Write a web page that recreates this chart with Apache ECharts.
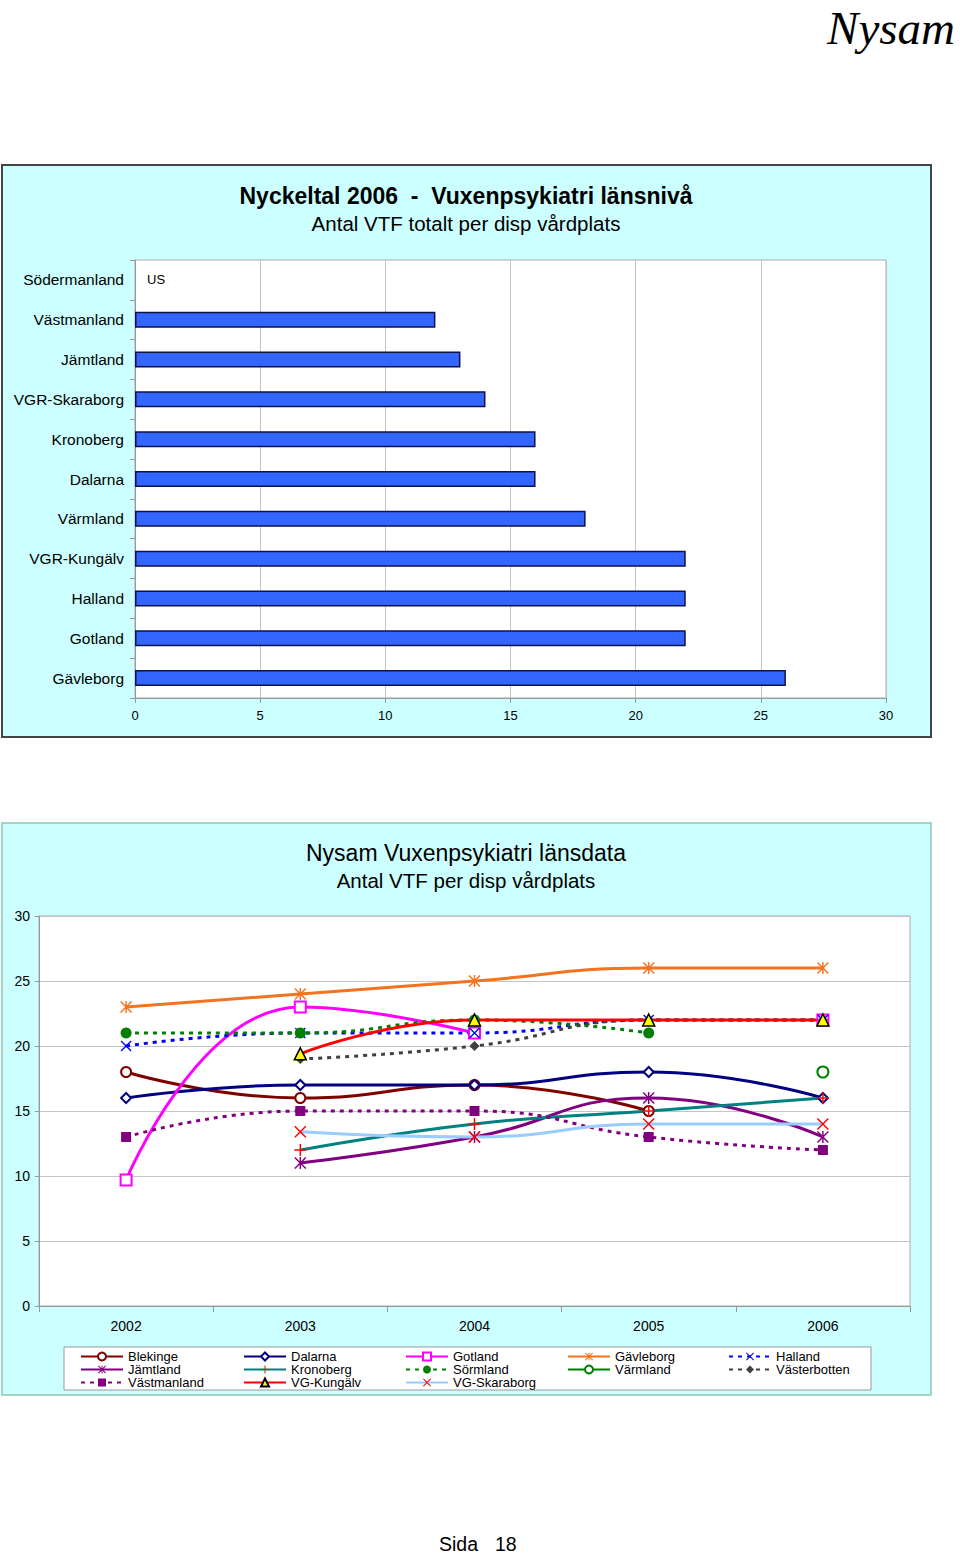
<!DOCTYPE html>
<html>
<head>
<meta charset="utf-8">
<script src="https://cdn.jsdelivr.net/npm/echarts@6/dist/echarts.min.js"></script>
<style>
html,body{margin:0;padding:0;background:#fff;}
#chart{width:960px;height:1554px;}
</style>
</head>
<body>
<div id="chart"></div>
<script>
// ---------- Data: bar chart ----------
const barCategories = ['Södermanland','Västmanland','Jämtland','VGR-Skaraborg','Kronoberg','Dalarna','Värmland','VGR-Kungälv','Halland','Gotland','Gävleborg'];
const barValues = [0, 12, 13, 14, 16, 16, 18, 22, 22, 22, 26];
const barNotes = ['US', '', '', '', '', '', '', '', '', '', ''];
const barTicks = [0, 5, 10, 15, 20, 25, 30];

// ---------- Data: line chart ----------
const years = ['2002','2003','2004','2005','2006'];
const blekinge     = [18, 16, 17, 15, null];
const dalarna      = [16, 17, 17, 18, 16];
const gotland      = [9.7, 23, 21, null, 22];
const gavleborg    = [23, 24, 25, 26, 26];
const halland      = [20, 21, 21, 22, 22];
const jamtland     = [null, 11, 13, 16, 13];
const kronoberg    = [null, 12, 14, 15, 16];
const sormland     = [21, 21, 22, 21, null];
const varmland     = [null, null, null, null, 18];
const vasterbotten = [null, 19, 20, 22, 22];
const vastmanland  = [13, 15, 15, 13, 12];
const vgKungalv    = [null, 19.4, 22, 22, 22];
const vgSkaraborg  = [null, 13.4, 13, 14, 14];
const lineTicks = [0, 5, 10, 15, 20, 25, 30];

const FONT = '"Liberation Sans", Arial, sans-serif';
const ASTER = 'path://M4.4 0H5.6V10H4.4Z M0 0.85L0.85 0L10 9.15L9.15 10Z M9.15 0L10 0.85L0.85 10L0 9.15Z';
const XMARK = 'path://M0 0.85L0.85 0L10 9.15L9.15 10Z M9.15 0L10 0.85L0.85 10L0 9.15Z';
const PLUS  = 'path://M4.4 0H5.6V10H4.4Z M0 4.4H10V5.6H0Z';

function lineSeries(name, data, lineColor, symbol, symColor, opts) {
  opts = opts || {};
  return {
    name: name, type: 'line', xAxisIndex: 1, yAxisIndex: 1,
    data: data, smooth: 0.5, connectNulls: false,
    symbol: symbol, symbolSize: opts.size || 10, showAllSymbol: true,
    lineStyle: { color: lineColor, width: 3, type: opts.dash ? [4, 5] : 'solid' },
    itemStyle: Object.assign({ color: symColor, borderWidth: opts.bw != null ? opts.bw : 1.5 }, opts.item || {}),
    emphasis: { disabled: true },
    z: 3
  };
}

const lineSeriesList = [
  lineSeries('Blekinge', blekinge, '#800000', 'emptyCircle', '#800000', {size: 10}),
  lineSeries('Dalarna', dalarna, '#000080', 'emptyDiamond', '#000080', {size: 10}),
  lineSeries('Gotland', gotland, '#ff00ff', 'emptyRect', '#ff00ff', {size: 11}),
  lineSeries('Gävleborg', gavleborg, '#f37321', ASTER, '#f37321', {size: 12, bw: 0}),
  lineSeries('Halland', halland, '#0000ff', XMARK, '#0000ff', {size: 11, bw: 0, dash: true}),
  lineSeries('Jämtland', jamtland, '#800080', ASTER, '#800080', {size: 12, bw: 0}),
  lineSeries('Kronoberg', kronoberg, '#008080', PLUS, '#ff0000', {size: 12, bw: 0}),
  lineSeries('Sörmland', sormland, '#008000', 'circle', '#008000', {size: 11, bw: 0, dash: true}),
  lineSeries('Värmland', varmland, '#008000', 'emptyCircle', '#008000', {size: 11}),
  lineSeries('Västerbotten', vasterbotten, '#404040', 'diamond', '#404040', {size: 10, bw: 0, dash: true}),
  lineSeries('Västmanland', vastmanland, '#800080', 'rect', '#800080', {size: 10, bw: 0, dash: true}),
  lineSeries('VG-Kungälv', vgKungalv, '#ff0000', 'triangle', '#ffff00', {size: 12, item: {borderColor: '#000', borderWidth: 1.5}}),
  lineSeries('VG-Skaraborg', vgSkaraborg, '#99ccff', XMARK, '#ff0000', {size: 12, bw: 0})
];

const names = lineSeriesList.map(s => s.name);
const legendCols = [80, 243, 405, 567, 728];
const legends = legendCols.map((x, i) => ({
  orient: 'vertical', left: x, top: 1350,
  itemWidth: 42, itemHeight: 10, itemGap: 0,
  data: [names[i], names[i + 5], names[i + 10]].filter(Boolean),
  textStyle: { fontFamily: FONT, fontSize: 13, color: '#000', lineHeight: 13 },
  selectedMode: false, padding: 0
}));

function txt(x, y, text, font, align, lh) {
  return { type: 'text', x: x, y: y, style: { text: text, font: font, fill: '#000', lineHeight: lh,
    textAlign: align, textVerticalAlign: 'middle', align: align, verticalAlign: 'middle' } };
}

const chart = echarts.init(document.getElementById('chart'), null, { renderer: 'svg', width: 960, height: 1554 });

const option = {
  animation: false,
  backgroundColor: '#ffffff',
  textStyle: { fontFamily: FONT },
  graphic: [
    { type: 'rect', z: -10, shape: { x: 2, y: 165, width: 929, height: 572 }, style: { fill: '#ccffff', stroke: '#444', lineWidth: 2 } },
    { type: 'rect', z: -10, shape: { x: 2, y: 823, width: 929, height: 572 }, style: { fill: '#ccffff', stroke: '#8ca', lineWidth: 1.5 } },
    { type: 'rect', z: -5, shape: { x: 64, y: 1347, width: 807, height: 43 }, style: { fill: '#ffffff', stroke: '#999', lineWidth: 1 } },
    txt(955, 28, 'Nysam', 'italic 47px "Liberation Serif", "DejaVu Serif", serif', 'right', 40),
    txt(466, 196, 'Nyckeltal 2006  -  Vuxenpsykiatri länsnivå', 'bold 23px ' + FONT, 'center', 24),
    txt(466, 223, 'Antal VTF totalt per disp vårdplats', '20.5px ' + FONT, 'center', 22),
    txt(466, 853, 'Nysam Vuxenpsykiatri länsdata', '23px ' + FONT, 'center', 24),
    txt(466, 880, 'Antal VTF per disp vårdplats', '20.5px ' + FONT, 'center', 22),
    txt(439, 1544, 'Sida', '19.5px ' + FONT, 'left', 16),
    txt(495, 1544, '18', '19.5px ' + FONT, 'left', 16)
  ],
  legend: legends,
  grid: [
    { left: 135, top: 260, width: 751, height: 438, show: true, backgroundColor: '#fff', borderColor: '#aaa', borderWidth: 1 },
    { left: 39, top: 916, width: 871, height: 390, show: true, backgroundColor: '#fff', borderColor: '#aaa', borderWidth: 1 }
  ],
  xAxis: [
    { type: 'value', gridIndex: 0, min: barTicks[0], max: barTicks[barTicks.length - 1], interval: 5,
      axisLabel: { fontSize: 13, color: '#000', margin: 11 },
      axisLine: { show: true, lineStyle: { color: '#999' } },
      axisTick: { show: true, length: 5, lineStyle: { color: '#999' } },
      splitLine: { show: true, lineStyle: { color: '#c4c4c4', width: 1 } } },
    { type: 'category', gridIndex: 1, data: years, boundaryGap: true,
      axisLabel: { fontSize: 14, color: '#000', margin: 13 },
      axisLine: { show: true, lineStyle: { color: '#999' } },
      axisTick: { show: true, length: 6, alignWithLabel: false, lineStyle: { color: '#999' } },
      splitLine: { show: false } }
  ],
  yAxis: [
    { type: 'category', gridIndex: 0, data: barCategories, inverse: true,
      axisLabel: { fontSize: 15.5, color: '#000', margin: 11 },
      axisLine: { show: true, lineStyle: { color: '#999' } },
      axisTick: { show: true, length: 5, lineStyle: { color: '#999' } },
      splitLine: { show: false } },
    { type: 'value', gridIndex: 1, min: lineTicks[0], max: lineTicks[lineTicks.length - 1], interval: 5,
      axisLabel: { fontSize: 14, color: '#000', margin: 9 },
      axisLine: { show: true, lineStyle: { color: '#999' } },
      axisTick: { show: true, length: 4, lineStyle: { color: '#999' } },
      splitLine: { show: true, lineStyle: { color: '#c4c4c4', width: 1 } } }
  ],
  series: [
    { type: 'bar', xAxisIndex: 0, yAxisIndex: 0, barWidth: 16,
      data: barValues.map((v, i) => barNotes[i]
        ? { value: v, itemStyle: { borderWidth: 0, color: 'transparent' },
            label: { show: true, position: 'right', distance: 12, formatter: barNotes[i], fontSize: 13, color: '#000' } }
        : v),
      itemStyle: { color: '#3366ff', borderColor: '#10104a', borderWidth: 1.5 },
      emphasis: { disabled: true } }
  ].concat(lineSeriesList)
};
chart.setOption(option);
</script>
</body>
</html>
